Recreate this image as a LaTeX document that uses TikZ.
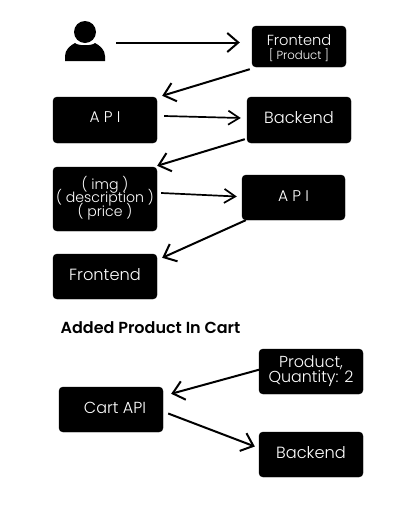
\documentclass[tikz,border=0pt]{standalone}
\usepackage{fontspec}
\setmainfont{Poppins Light}
\newfontfamily\titlefont{Poppins SemiBold}
\usetikzlibrary{arrows.meta,calc}
\newcommand{\tightlines}{\lineskiplimit=-20pt\relax}
\tikzset{
  x=1pt,y=-1pt,
  box/.style={draw=black,fill=black,rounded corners=4pt,inner sep=0pt},
  lab/.style={text=white,align=center,inner sep=0pt},
  conn/.style={draw=black,line width=2pt,-{Straight Barb[length=11pt,width=19pt,line width=2pt]}},
  thinconn/.style={draw=black,line width=1.7pt,-{Straight Barb[length=11pt,width=14pt,line width=1.7pt]}}
}
\begin{document}
\begin{tikzpicture}
\useasboundingbox (0,0) rectangle (413,531);
% person
\node[fill=black,circle,minimum size=22pt,inner sep=0pt] (head) at (85,32) {};
\fill[black] (65,61) -- (65,56) .. controls (65,50) and (70,45.5) .. (75,43) .. controls (78,46) and (92,46) .. (95,43) .. controls (100,45.5) and (105,50) .. (105,56) -- (105,61) -- cycle;
\coordinate (person) at (116,42.5);
\node[box,minimum width=94pt,minimum height=41pt] (fe1) at (299,46.5) {};
\node[lab,font=\fontsize{14.6}{12}\selectfont] (fe1a) at (299,40.5) {Frontend};
\node[lab,font=\fontsize{11.7}{12}\selectfont] (fe1b) at (299,55) {[ Product ]};
\node[box,minimum width=104pt,minimum height=46pt] (api1) at (105,120) {};
\node[lab,font=\fontsize{15.5}{12}\selectfont] (api1t) at (105,117) {A P I};
\node[box,minimum width=104pt,minimum height=46pt] (be1) at (299,120) {};
\node[lab,font=\fontsize{16.2}{12}\selectfont] (be1t) at (299,118) {Backend};
\node[box,minimum width=104pt,minimum height=64pt] (info) at (105,199) {};
\node[lab,font=\fontsize{14.1}{13.5}\selectfont\tightlines] (infot) at (105,198) {( img )\\( description )\\( price )};
\node[box,minimum width=103pt,minimum height=45pt] (api2) at (293.5,197.5) {};
\node[lab,font=\fontsize{15.5}{12}\selectfont] (api2t) at (293.5,196) {A P I};
\node[box,minimum width=104pt,minimum height=45pt] (fe2) at (105,276.5) {};
\node[lab,font=\fontsize{16.2}{12}\selectfont] (fe2t) at (105,275) {Frontend};
\node[font=\fontsize{16}{14}\titlefont,text=black,inner sep=0pt] (title) at (150.5,328) {Added Product In Cart};
\node[box,minimum width=104pt,minimum height=45pt] (prod) at (311,371.5) {};
\node[lab,font=\fontsize{15.9}{15.5}\selectfont\tightlines] (prodt) at (311,371) {Product,\\Quantity: 2};
\node[box,minimum width=104pt,minimum height=45pt] (cart) at (111,409.5) {};
\node[lab,font=\fontsize{16}{12}\selectfont] (cartt) at (115,407.5) {Cart API};
\node[box,minimum width=104pt,minimum height=45pt] (be2) at (311,454.5) {};
\node[lab,font=\fontsize{16.2}{12}\selectfont] (be2t) at (311,453) {Backend};
% connectors
\draw[conn] (person) -- ($(fe1.west)+(-12,-4)$);
\draw[conn] ($(fe1.south west)+(-2,2)$) -- ($(api1.north east)+(5,-1)$);
\draw[thinconn] ($(api1.east)+(7,-4)$) -- ($(be1.west)+(-6,-2)$);
\draw[conn] ($(be1.south west)+(-2,-4)$) -- ($(info.north east)+(0,-1)$);
\draw[thinconn] ($(info.east)+(4,-6)$) -- ($(api2.west)+(-5,-1)$);
\draw[conn] ($(api2.south west)+(4,0)$) -- ($(fe2.north east)+(5,4)$);
\draw[conn] ($(prod.west)+(1,-2)$) -- ($(cart.north east)+(8,7)$);
\draw[conn] ($(cart.east)+(5,4)$) -- ($(be2.west)+(-4,-8)$);
\end{tikzpicture}
\end{document}
